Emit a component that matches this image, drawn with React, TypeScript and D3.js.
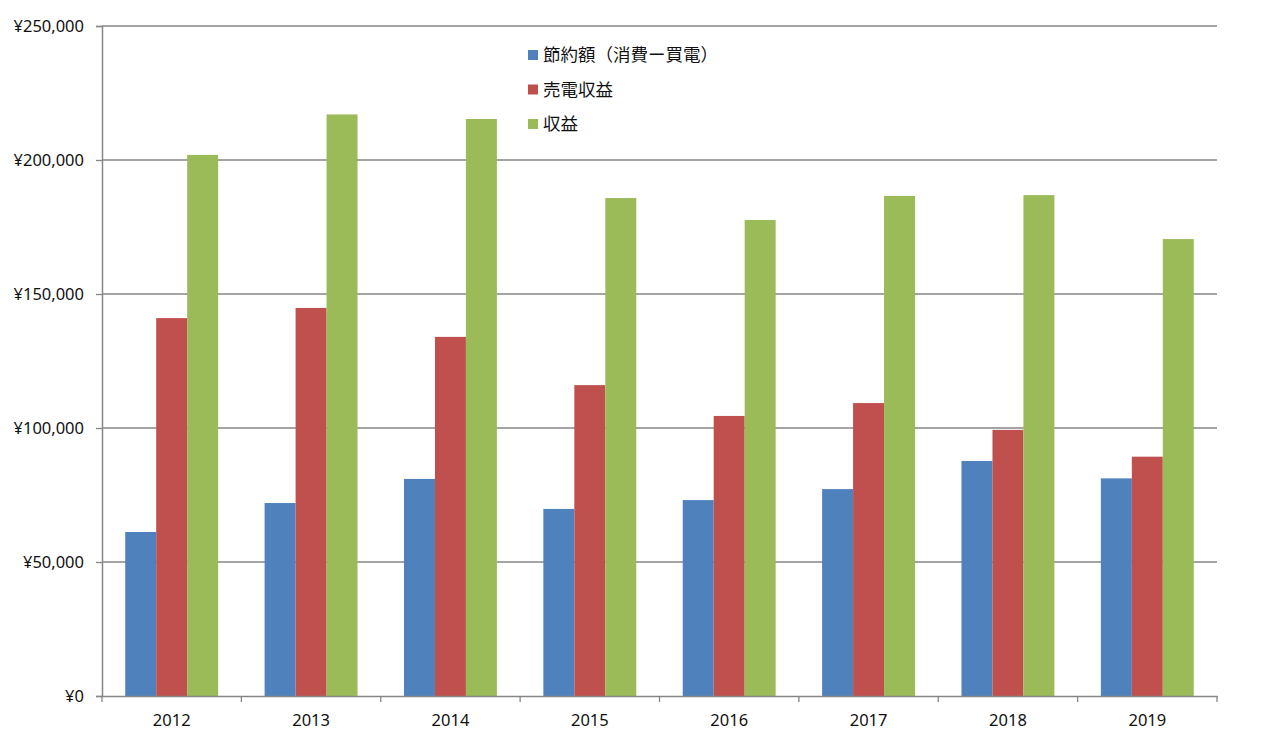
import React, { useEffect, useRef } from 'react'
import { select, scaleBand, scaleLinear, axisLeft, axisBottom, format } from 'd3'

const years = ['2012', '2013', '2014', '2015', '2016', '2017', '2018', '2019']
const seriesLabels = ['節約額（消費ー買電）', '売電収益', '収益']
const savings = [61200, 72000, 81000, 69800, 73100, 77200, 87700, 81200]
const sales = [141000, 144800, 134000, 116000, 104500, 109300, 99300, 89300]
const income = [201900, 217000, 215300, 185800, 177600, 186600, 186900, 170500]
const yTicks = [0, 50000, 100000, 150000, 200000, 250000]

const colors = ['#4F81BD', '#C0504D', '#9BBB59']
const W = 1272
const H = 754
const margin = { left: 102, right: 55, top: 26, bottom: 58 }

export default function App() {
  const svgRef = useRef<SVGSVGElement | null>(null)

  useEffect(() => {
    if (!svgRef.current) return
    const svg = select(svgRef.current)
    svg.selectAll('*').remove()

    const values = [savings, sales, income]
    const rows = years.map((year, i) => ({ year, vals: values.map(v => v[i]) }))

    const xScale = scaleBand().domain(years).range([margin.left, W - margin.right]).padding(0)
    const inner = scaleBand<number>()
      .domain([0, 1, 2])
      .range([0, xScale.bandwidth()])
      .paddingInner(0)
      .paddingOuter(0.75)
    const yScale = scaleLinear().domain([0, 250000]).range([H - margin.bottom, margin.top])

    // gridlines
    svg.append('g')
      .selectAll('line')
      .data(yTicks.filter(t => t > 0))
      .join('line')
      .attr('x1', margin.left)
      .attr('x2', W - margin.right)
      .attr('y1', d => yScale(d))
      .attr('y2', d => yScale(d))
      .attr('stroke', '#868686')
      .attr('stroke-width', 1.3)

    // bars
    svg.append('g')
      .selectAll('g')
      .data(rows)
      .join('g')
      .attr('transform', d => `translate(${xScale(d.year)},0)`)
      .selectAll('rect')
      .data(d => d.vals.map((v, k) => ({ v, k })))
      .join('rect')
      .attr('x', d => inner(d.k) ?? 0)
      .attr('width', inner.bandwidth())
      .attr('y', d => yScale(d.v))
      .attr('height', d => yScale(0) - yScale(d.v))
      .attr('fill', d => colors[d.k])

    const fontFamily = '"Noto Sans", "Liberation Sans", sans-serif'

    const yAxis = axisLeft(yScale)
      .tickValues(yTicks)
      .tickSize(6)
      .tickPadding(12)
      .tickFormat(d => '¥' + format(',')(d as number))
    const yg = svg.append('g')
      .attr('transform', `translate(${margin.left},0)`)
      .call(yAxis)
    yg.select('.domain').attr('stroke', '#868686').attr('stroke-width', 1.5)
    yg.selectAll('.tick line').attr('stroke', '#868686').attr('stroke-width', 1.3)
    yg.selectAll('.tick text')
      .attr('font-family', fontFamily)
      .attr('font-size', 16.5)
      .attr('fill', '#111')

    const xAxis = axisBottom(xScale).tickSize(0).tickPadding(18)
    const xg = svg.append('g')
      .attr('transform', `translate(0,${yScale(0)})`)
      .call(xAxis)
    xg.select('.domain').attr('stroke', '#868686').attr('stroke-width', 1.5)
    xg.selectAll('.tick text')
      .attr('font-family', fontFamily)
      .attr('font-size', 16.5)
      .attr('fill', '#111')
    // boundary ticks between categories
    xg.append('g')
      .selectAll('line')
      .data([...years.map(y => xScale(y) ?? 0), W - margin.right])
      .join('line')
      .attr('x1', d => d)
      .attr('x2', d => d)
      .attr('y1', 0)
      .attr('y2', 6)
      .attr('stroke', '#868686')
      .attr('stroke-width', 1.3)

    // legend
    const legend = svg.append('g').attr('transform', 'translate(528,50)')
    const items = legend.selectAll('g')
      .data(seriesLabels)
      .join('g')
      .attr('transform', (_, i) => `translate(0,${i * 34.5})`)
    items.append('rect')
      .attr('width', 10)
      .attr('height', 10)
      .attr('fill', (_, i) => colors[i])
    items.append('text')
      .attr('x', 15)
      .attr('y', 5)
      .attr('dy', '0.36em')
      .attr('font-family', '"Noto Sans CJK JP", sans-serif')
      .attr('font-size', 17.5)
      .attr('fill', '#111')
      .text(d => d)
  }, [])

  return (
    <div style={{ position: 'absolute', left: 0, top: 0, background: '#fff' }}>
      <svg ref={svgRef} width={W} height={H} style={{ display: 'block' }} />
    </div>
  )
}
